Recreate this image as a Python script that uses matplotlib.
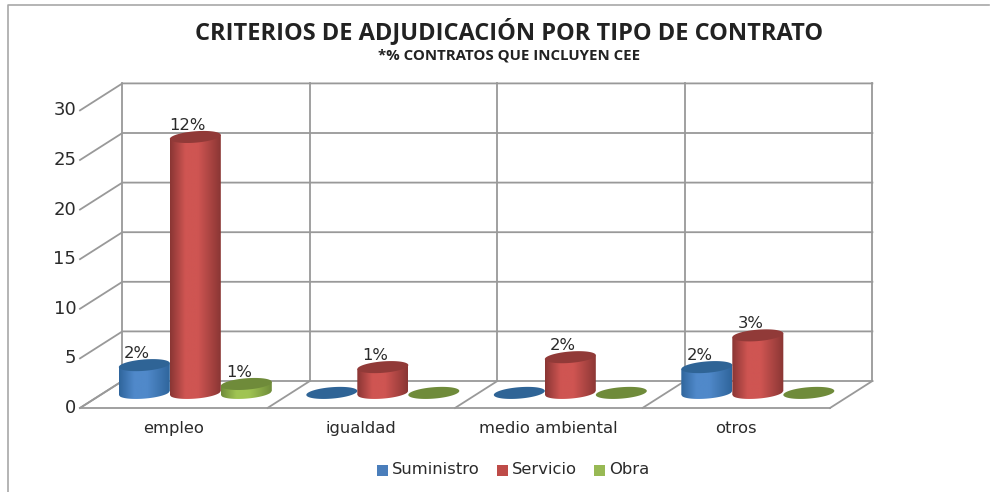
import numpy as np
import matplotlib.pyplot as plt
from matplotlib.colors import LinearSegmentedColormap
from matplotlib.patches import PathPatch, Rectangle
from matplotlib.path import Path

categories = ["empleo", "igualdad", "medio ambiental", "otros"]
y_ticks = [0, 5, 10, 15, 20, 25, 30]
suministro = [2.8, 0, 0, 2.6]
servicio = [25.8, 2.6, 3.6, 5.8]
obra = [0.9, 0, 0, 0]
suministro_labels = ["2%", None, None, "2%"]
servicio_labels = ["12%", "1%", "2%", "3%"]
obra_labels = ["1%", None, None, None]

GRID = "#999999"
TEXT = "#2a2a2a"
DX, DY = 0.226, 2.72      # floor depth, in category / value units
BASE = -1.2
BAR_W = 0.272
ELL_H = 1.15
TILT = 0.2

fig = plt.figure(figsize=(9.99, 4.92), dpi=100)
ax = fig.add_axes([0, 0, 1, 1])

# outer frame of the pasted picture
ax.plot([-0.384, -0.384, 4.85], [-11.2, 37.9, 37.9], color="#a8a8a8", lw=1.2, zorder=1)

n = len(categories)
for v in y_ticks:
    ax.plot([0, DX, n + DX], [v - DY, v, v], color=GRID, lw=1.3, zorder=2)
for i in range(n + 1):
    ax.plot([i + DX, i + DX], [0, y_ticks[-1]], color=GRID, lw=1.3, zorder=2)
    ax.plot([i, i + DX], [-DY, 0], color=GRID, lw=1.3, zorder=2)
ax.plot([0, n], [-DY, -DY], color=GRID, lw=1.3, zorder=2)

for v in y_ticks:
    ax.text(-0.02, v - DY, str(v), ha="right", va="center", fontsize=13, color=TEXT)
for i, c in enumerate(categories):
    ax.text(i + 0.5, -4.8, c, ha="center", va="center", fontsize=11.8, color=TEXT)


def cylinder(x, value, colors, label, order):
    edge, mid, top = colors
    xs = x + np.linspace(-BAR_W / 2, BAR_W / 2, 40)
    t = np.linspace(-1, 1, 40)
    lower = BASE - np.sqrt(1 - t ** 2) * ELL_H / 2 + t * TILT
    upper = BASE + value + t * TILT
    if value > 0:
        verts = np.r_[np.c_[xs, lower], np.c_[xs[::-1], upper[::-1]], [[xs[0], lower[0]]]]
        codes = [Path.MOVETO] + [Path.LINETO] * (len(verts) - 2) + [Path.CLOSEPOLY]
        clip = PathPatch(Path(verts, codes), transform=ax.transData, fc="none", ec="none")
        ax.add_patch(clip)
        cmap = LinearSegmentedColormap.from_list(
            "c", [(0, edge), (0.3, mid), (0.55, mid), (1, edge)], N=128)
        grad = np.linspace(0, 1, 128).reshape(1, -1)
        im = ax.imshow(grad, extent=(xs[0], xs[-1], BASE - ELL_H, BASE + value + 1),
                       cmap=cmap, aspect="auto", zorder=order, interpolation="bilinear")
        im.set_clip_path(clip)
    t2 = np.linspace(0, 2 * np.pi, 80)
    ex = x + BAR_W / 2 * np.cos(t2)
    ey = BASE + value + ELL_H / 2 * np.sin(t2) + TILT * np.cos(t2)
    ax.fill(ex, ey, color=top, zorder=order + 0.1, lw=0)
    if label:
        ax.text(x - 0.04, BASE + value + 1.15, label, ha="center", va="center",
                fontsize=11.8, color=TEXT, zorder=20)


blue = ("#2f659c", "#5089ca", "#2f6496")
red = ("#8a3634", "#cf5552", "#913a38")
green = ("#6f8c3a", "#a0c452", "#6f8b3a")

for i in range(n):
    cx = i + 0.615
    cylinder(cx - 0.272, suministro[i], blue, suministro_labels[i], 5)
    cylinder(cx + 0.272, obra[i], green, obra_labels[i], 5)
    cylinder(cx, servicio[i], red, servicio_labels[i], 6)

ax.set_xlim(-80 / 187.5, 919 / 187.5)
ax.set_ylim(-111 / 9.92, 381 / 9.92)
ax.axis("off")

ax.text(2.286, 35.2, "CRITERIOS DE ADJUDICACIÓN POR TIPO DE CONTRATO", ha="center", va="center",
        fontsize=17, fontweight="bold", family="Open Sans", color="#222222")
ax.text(2.286, 32.8, "*% CONTRATOS QUE INCLUYEN CEE", ha="center", va="center",
        fontsize=10.8, fontweight="bold", family="Open Sans", color="#222222")

legend_items = [("Suministro", "#4a7ebb", 377), ("Servicio", "#be4b48", 497), ("Obra", "#98b954", 594)]
for name, col, px in legend_items:
    x0 = (px - 80) / 187.5
    ax.add_patch(Rectangle((x0, (381 - 476) / 9.92), 11 / 187.5, 11 / 9.92, fc=col, ec="none"))
    ax.text(x0 + 15 / 187.5, (381 - 470) / 9.92, name, ha="left", va="center", fontsize=11.8, color=TEXT)

fig.savefig("out.png", dpi=100)
